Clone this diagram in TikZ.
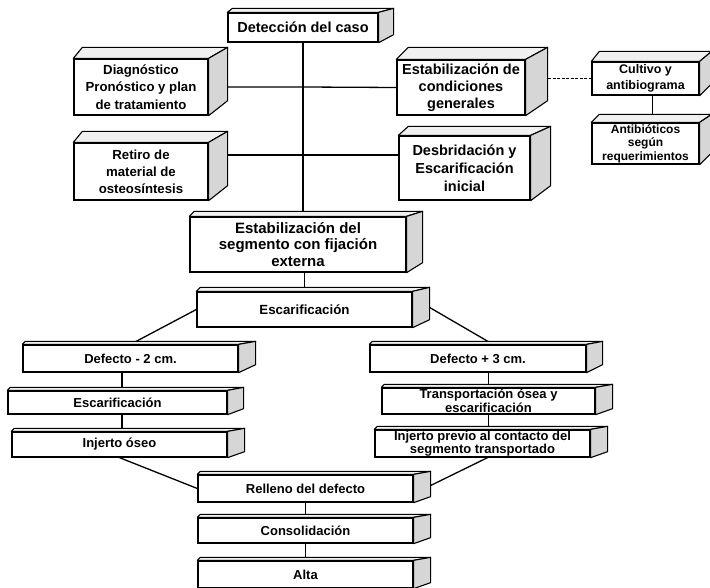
\documentclass[tikz,border=0pt]{standalone}
\usepackage{fontspec}
\setmainfont{Liberation Sans}
\usetikzlibrary{calc}
\pgfdeclarelayer{bg}
\pgfsetlayers{bg,main}
\newcommand{\fsz}[2]{\fontsize{#1}{#2}\selectfont\bfseries}
\newcommand{\faces}[5]{%
  \filldraw[topf] (#1.north west) -- ++(#2,-#4) -- ($(#1.north east)+(#3,-#4)$) -- (#1.north east) -- cycle;
  \filldraw[sidef] (#1.north east) -- ++(#3,-#4) -- ($(#1.south east)+(#3,-#5)$) -- (#1.south east) -- cycle;}
\begin{document}
\begin{tikzpicture}[x=1pt,y=-1pt,
  cub/.style={draw, fill=white, line width=1.3pt, inner sep=0pt, align=center},
  topf/.style={draw, fill=gray!12, line width=1.1pt, line join=round},
  sidef/.style={draw, fill=gray!32, line width=1.1pt, line join=round},
  conn/.style={line width=1.3pt},
  thinconn/.style={line width=0.8pt}]
\useasboundingbox (0,0) rectangle (710,588);
\clip (0,0) rectangle (710,588);

\node[cub, minimum width=150pt, minimum height=29pt, font=\fsz{14.5}{16}] (det) at (303,27.5) {Detección del caso};
\faces{det}{5}{15}{4}{8}
\node[cub, minimum width=134pt, minimum height=56pt, font=\fsz{13.2}{17.5}] (diag) at (141,87) {Diagnóstico\\Pronóstico y plan\\de tratamiento};
\faces{diag}{9}{19}{11}{15}
\node[cub, minimum width=134pt, minimum height=57pt, font=\fsz{13.2}{17}] (retiro) at (141,171.5) {Retiro de\\material de\\osteosíntesis};
\faces{retiro}{9}{19}{11}{15}
\node[cub, minimum width=128pt, minimum height=55pt, font=\fsz{14.5}{17}] (estcond) at (461,87.5) {Estabilización de\\condiciones\\generales};
\faces{estcond}{12}{22}{12}{15}
\node[cub, minimum width=131pt, minimum height=64pt, font=\fsz{14.5}{18}] (desb) at (464.5,168) {Desbridación y\\Escarificación\\inicial};
\faces{desb}{10}{20}{9}{15}
\node[cub, minimum width=107pt, minimum height=33pt, font=\fsz{12.5}{16}] (cult) at (645.5,78.5) {Cultivo y\\antibiograma};
\faces{cult}{8}{12}{10}{12}
\node[cub, minimum width=107pt, minimum height=41pt, font=\fsz{12}{13.5}] (antib) at (645.5,143.5) {Antibióticos\\según\\requerimientos};
\faces{antib}{8}{12}{8}{12}
\node[cub, minimum width=216pt, minimum height=55pt, font=\fsz{15}{16.5}] (estseg) at (298,244.5) {Estabilización del\\segmento con fijación\\externa};
\faces{estseg}{5}{16}{5}{10}
\node[cub, minimum width=215pt, minimum height=35pt, font=\fsz{13.3}{15}] (esc1) at (304.5,309.5) {Escarificación};
\faces{esc1}{4}{17}{4}{8}
\node[cub, minimum width=215pt, minimum height=27pt, font=\fsz{13}{15}] (def2) at (130.5,358.5) {Defecto - 2 cm.};
\faces{def2}{3}{17}{3}{8}
\node[cub, minimum width=216pt, minimum height=27pt, font=\fsz{13}{15}] (def3) at (478,358.5) {Defecto + 3 cm.};
\faces{def3}{3}{16}{3}{8}
\node[cub, minimum width=219pt, minimum height=23pt, font=\fsz{13}{15}] (esc2) at (117.5,402.5) {Escarificación};
\faces{esc2}{3}{16}{3}{6}
\node[cub, minimum width=215pt, minimum height=25pt, font=\fsz{13}{15}] (inj) at (119.5,444.5) {Injerto óseo};
\faces{inj}{3}{17}{3}{6}
\node[cub, minimum width=213pt, minimum height=26pt, font=\fsz{13}{14.5}] (transp) at (488.5,401) {Transportación ósea y\\escarificación};
\faces{transp}{3}{17}{3}{6}
\node[cub, minimum width=215pt, minimum height=27pt, font=\fsz{13}{13.5}] (injprev) at (482.5,443.5) {Injerto previo al contacto del\\segmento transportado};
\faces{injprev}{3}{17}{3}{6}
\node[cub, minimum width=215pt, minimum height=27pt, font=\fsz{13}{15}] (rell) at (305.5,488.5) {Relleno del defecto};
\faces{rell}{3}{17}{3}{6}
\node[cub, minimum width=215pt, minimum height=25pt, font=\fsz{13}{15}] (cons) at (305.5,530.5) {Consolidación};
\faces{cons}{3}{17}{3}{6}
\node[cub, minimum width=215pt, minimum height=27pt, font=\fsz{13}{15}] (alta) at (305.5,574.5) {Alta};
\faces{alta}{3}{17}{3}{6}

\coordinate (j2) at (303,155);
\coordinate (cl) at (122,0);
\coordinate (cc) at (652,0);

\begin{pgfonlayer}{bg}
\fill[white] (0,0) rectangle (710,588);
\draw[conn] (det.south) -- (det.south |- estseg.north);
\draw[conn] (diag.east) -- (diag.east -| det.south) -- (estcond.west);
\draw[conn] (retiro.east |- j2) -- (desb.west |- j2);
\draw[thinconn, dash pattern=on 3pt off 1.5pt] (estcond.east |- cult.west) -- (cult.west);
\draw[thinconn] (cult.south -| cc) -- (antib.north -| cc);
\draw[conn] (esc1.north |- estseg.south) -- (esc1.north);
\draw[conn] (esc1.west) -- (def2.north);
\draw[conn] ($(esc1.east)+(17,-2)$) -- ($(def3.north)+(15,0)$);
\draw[conn] (def2.south -| cl) -- (esc2.north -| cl);
\draw[conn] (esc2.south -| cl) -- (inj.north -| cl);
\draw[conn] (inj.south) -- (rell.west);
\draw[conn] (transp.north |- def3.south) -- (transp.north);
\draw[conn] (transp.south) -- (transp.south |- injprev.north);
\draw[conn] ($(injprev.south)+(5,0)$) -- ($(rell.east)+(17,-3)$);
\draw[conn] (rell.south) -- (cons.north);
\draw[conn] (cons.south) -- (alta.north);
\end{pgfonlayer}
\end{tikzpicture}
\end{document}
